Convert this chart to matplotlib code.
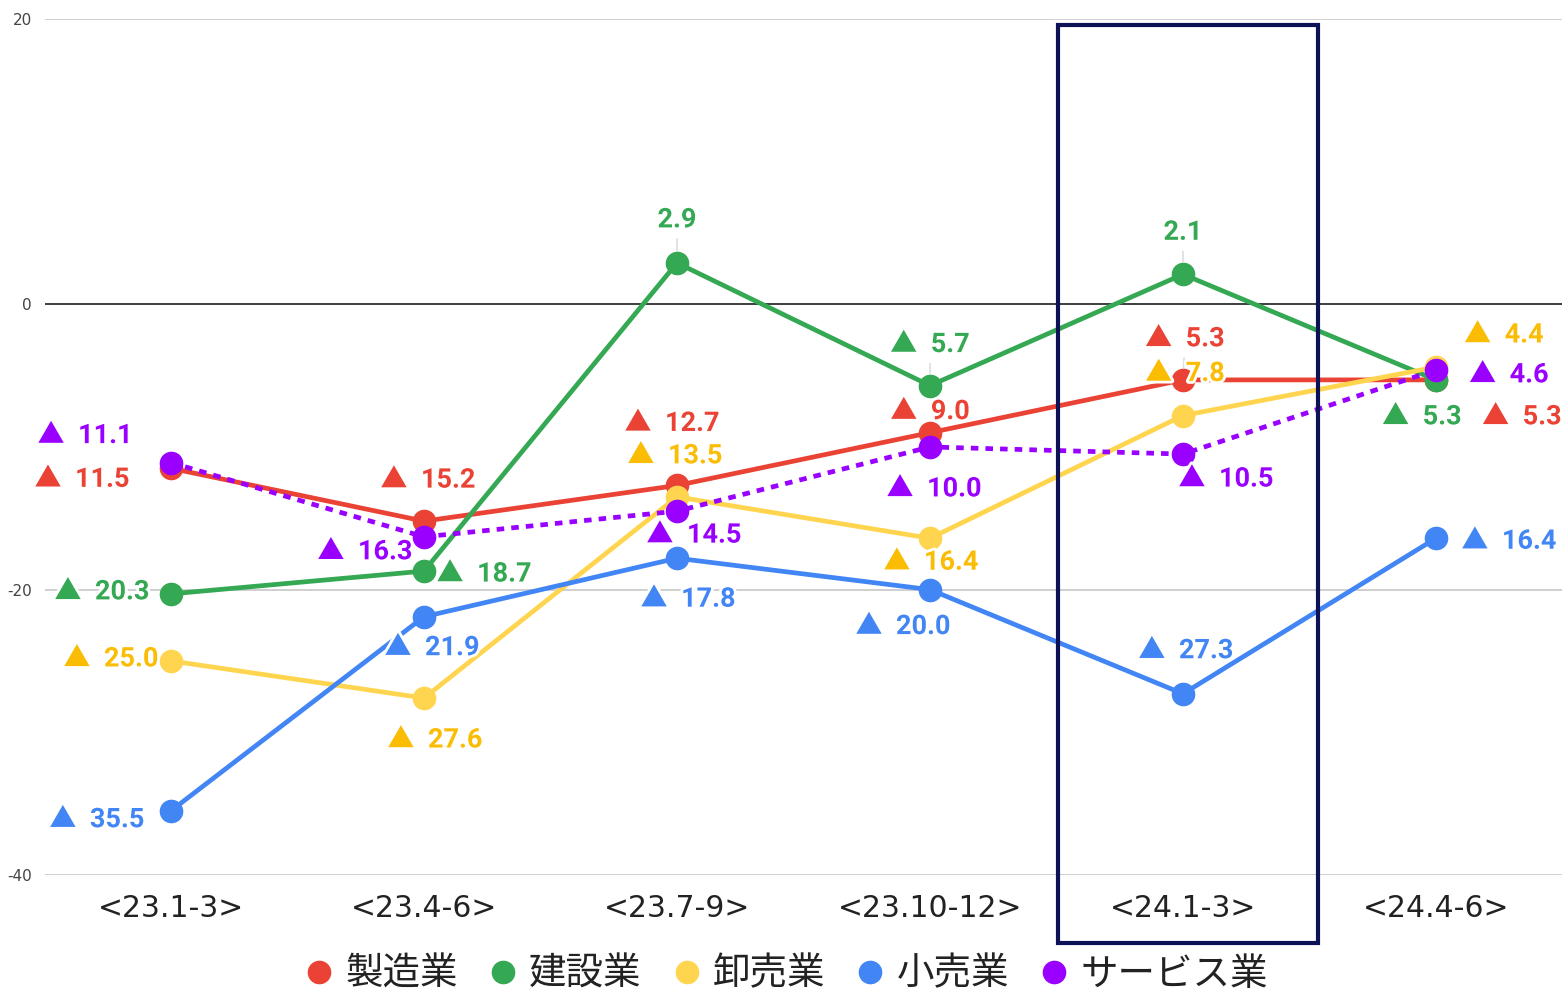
import matplotlib
matplotlib.use('Agg')
import matplotlib.pyplot as plt
import matplotlib.patheffects as pe
from matplotlib.lines import Line2D
from matplotlib.patches import Rectangle

plt.rcParams['axes.unicode_minus'] = False

# data (negative values are shown with ▲)
categories = ['<23.1-3>', '<23.4-6>', '<23.7-9>', '<23.10-12>', '<24.1-3>', '<24.4-6>']
seizo = [-11.5, -15.2, -12.7, -9.0, -5.3, -5.3]
kensetsu = [-20.3, -18.7, 2.9, -5.7, 2.1, -5.3]
oroshi = [-25.0, -27.6, -13.5, -16.4, -7.8, -4.4]
kouri = [-35.5, -21.9, -17.8, -20.0, -27.3, -16.4]
service = [-11.1, -16.3, -14.5, -10.0, -10.5, -4.6]
series_names = ['製造業', '建設業', '卸売業', '小売業', 'サービス業']
highlight = '<24.1-3>'

# styles
line_colors = ['#ea4335', '#34a853', '#ffd54f', '#4285f4', '#9900ff']
label_colors = ['#ea4335', '#34a853', '#fbbc04', '#4285f4', '#9900ff']
line_styles = ['-', '-', '-', '-', (0, (1.6, 1.5))]

# label offsets in pixels (dx right, dy down) from each point
label_offsets = [
    [(-89, 8), (4, -44), (-5, -65), (0, -24), (2, -44), (86, 34)],
    [(-69, -5), (60, 0), (0, -46), (0, -44), (0, -45), (-14, 34)],
    [(-60, -5), (11, 39), (-2, -44), (1, 21), (2, -45), (68, -35)],
    [(-74, 6), (8, 28), (11, 38), (-27, 34), (3, -46), (73, 0)],
    [(-86, -30), (-59, 12), (17, 21), (4, 39), (43, 22), (73, 2)],
]
# labels that get a thin leader line to their point (series, index)
leaders = [(1, 2), (1, 3), (1, 4), (0, 4)]


def fmt(v):
    return f'▲  {abs(v):.1f}' if v < 0 else f'{v:.1f}'


fig = plt.figure(figsize=(15.62, 9.91), dpi=100)
ax = fig.add_axes([0.0285, 0.1171, 0.9718, 0.8638])

x = list(range(len(categories)))
all_series = [seizo, kensetsu, oroshi, kouri, service]

for i, vals in enumerate(all_series):
    ax.plot(x, vals, color=line_colors[i], lw=3.4, ls=line_styles[i],
            marker='o', ms=16, mec=line_colors[i], mfc=line_colors[i],
            dash_capstyle='butt', zorder=3 + i)

halo = [pe.withStroke(linewidth=4, foreground='white')]
for i, vals in enumerate(all_series):
    for j, v in enumerate(vals):
        dx, dy = label_offsets[i][j]
        arrow = None
        if (i, j) in leaders:
            arrow = dict(arrowstyle='-', color='#dddddd', lw=1.2,
                         shrinkA=2, shrinkB=9)
        ax.annotate(fmt(v), (j, v), xytext=(dx, -dy), textcoords='offset pixels',
                    ha='center', va='center_baseline', fontsize=19.5, fontweight='bold',
                    family=['Roboto', 'Noto Sans CJK JP'], color=label_colors[i],
                    path_effects=halo, arrowprops=arrow, zorder=12)

# highlight box around one quarter
hx = categories.index(highlight)
ax.add_patch(Rectangle((hx - 0.494, -44.8), 1.028, 64.38, fill=False,
                       ec='#0d1257', lw=3, clip_on=False, zorder=11))

ax.set_xlim(-0.5, 5.5)
ax.set_ylim(-40, 20)
ax.set_yticks([-40, -20, 0, 20])
ax.set_xticks(x)
ax.set_xticklabels(categories, fontsize=21.5, color='#222222', family='DejaVu Sans')
ax.tick_params(axis='y', labelsize=11, labelcolor='#444444', pad=9, length=0)
ax.tick_params(axis='x', pad=14, length=0)
ax.yaxis.grid(True, color='#cccccc', lw=1.3)
ax.axhline(0, color='#333333', lw=1.3, zorder=2)
ax.set_axisbelow(True)
for s in ax.spines.values():
    s.set_visible(False)

handles = [Line2D([], [], ls='', marker='o', ms=16, color=c) for c in line_colors]
leg = fig.legend(handles, series_names, loc='center', bbox_to_anchor=(0.502, 0.017),
                 ncol=5, frameon=False, handletextpad=0.2, columnspacing=0.7,
                 handlelength=1.0, borderpad=0,
                 prop={'family': ['Noto Sans CJK JP', 'DejaVu Sans'], 'size': 27})
for t in leg.get_texts():
    t.set_color('#222222')

fig.savefig('out.png', dpi=100)
plt.close(fig)
